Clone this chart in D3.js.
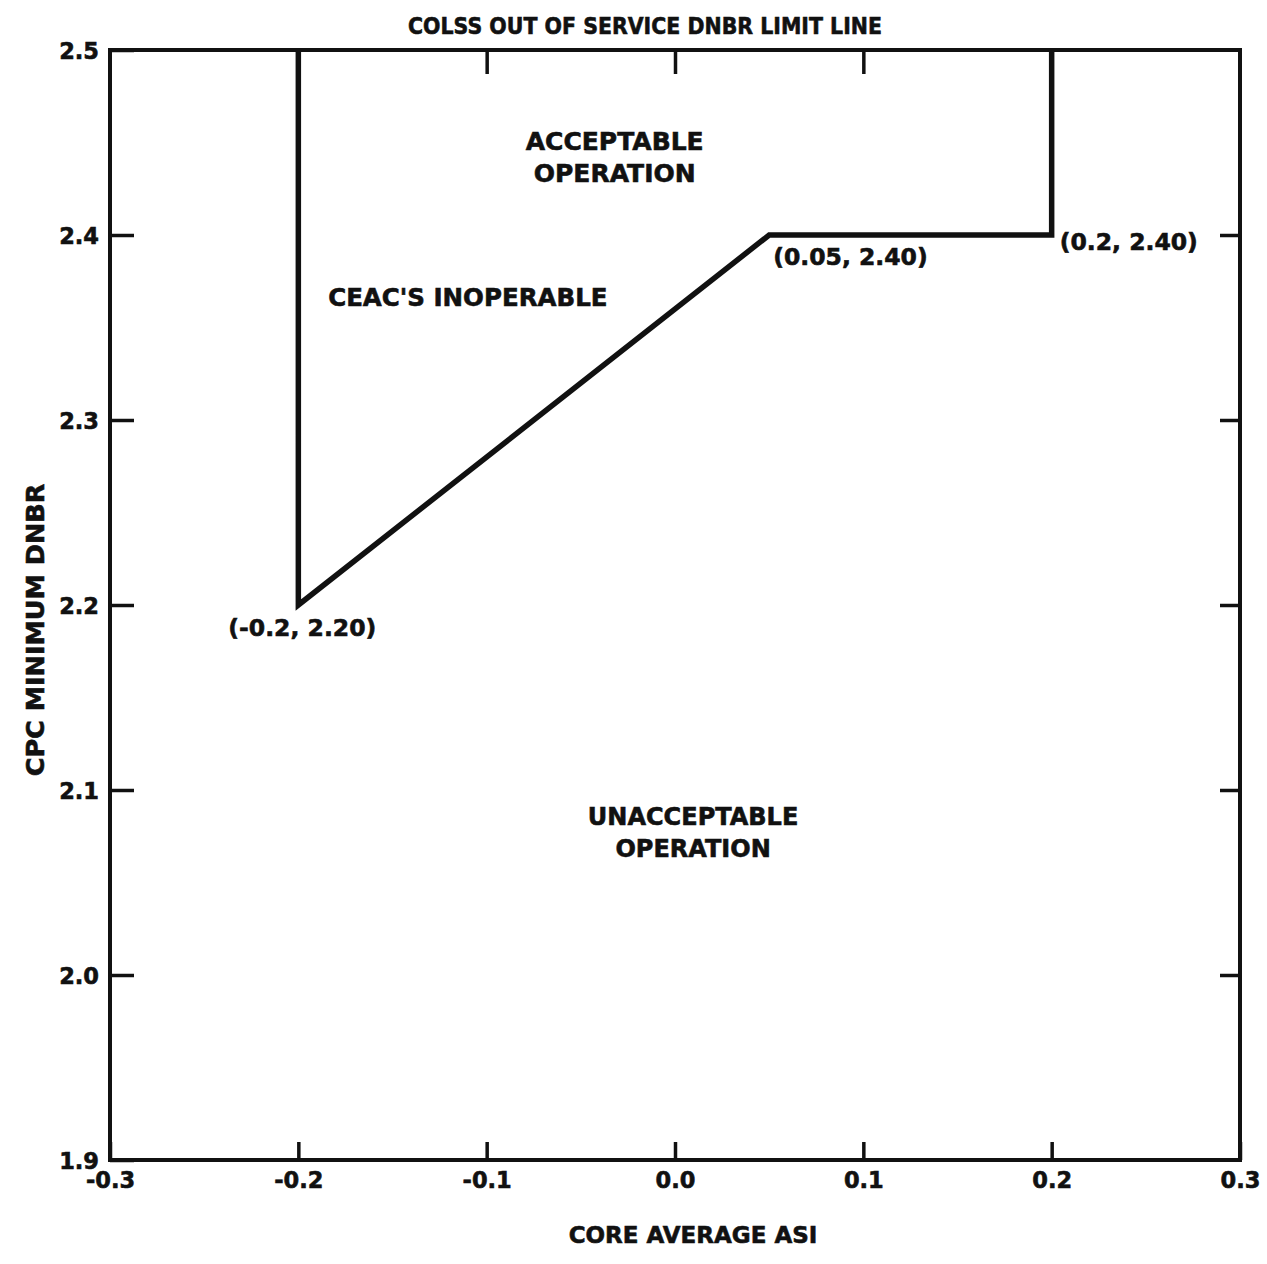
<!DOCTYPE html>
<html>
<head>
<meta charset="utf-8">
<script src="https://cdn.jsdelivr.net/npm/d3@7"></script>
<style>
  html, body { margin: 0; padding: 0; background: #fff; }
  svg { display: block; }
  text { font-family: "DejaVu Sans", "Liberation Sans", sans-serif; font-weight: bold; fill: #111; stroke: #111; stroke-width: 0.6px; }
</style>
</head>
<body>
<script>
// ---- data ----
const xTicks = [-0.3, -0.2, -0.1, 0.0, 0.1, 0.2, 0.3];
const xTickLabels = ["-0.3", "-0.2", "-0.1", "0.0", "0.1", "0.2", "0.3"];
const yTicks = [1.9, 2.0, 2.1, 2.2, 2.3, 2.4, 2.5];
const yTickLabels = ["1.9", "2.0", "2.1", "2.2", "2.3", "2.4", "2.5"];
const limitX = [-0.2, -0.2, 0.05, 0.2, 0.2];
const limitY = [2.5, 2.2, 2.4, 2.4, 2.5];
const pointLabels = [
  { x: -0.2, y: 2.2, text: "(-0.2, 2.20)" },
  { x: 0.05, y: 2.4, text: "(0.05, 2.40)" },
  { x: 0.2, y: 2.4, text: "(0.2, 2.40)" }
];
const regionLabels = [
  { x: -0.032, y: 2.4459, lines: ["ACCEPTABLE", "OPERATION"] },
  { x: -0.110, y: 2.3616, lines: ["CEAC'S INOPERABLE"] },
  { x: 0.0096, y: 2.0811, lines: ["UNACCEPTABLE", "OPERATION"] }
];
const title = "COLSS OUT OF SERVICE DNBR LIMIT LINE";
const xTitle = "CORE AVERAGE ASI";
const yTitle = "CPC MINIMUM DNBR";

// ---- layout ----
const W = 1267, H = 1264;
const m = { left: 110, top: 50 };
const w = 1130, h = 1110;

const svg = d3.select("body").append("svg").attr("width", W).attr("height", H);
const g = svg.append("g").attr("transform", `translate(${m.left},${m.top})`);

const x = d3.scaleLinear().domain([-0.3, 0.3]).range([0, w]);
const y = d3.scaleLinear().domain([1.9, 2.5]).range([h, 0]);

const fsTick = 22.5;

// bottom axis (ticks inward, labels below)
const xb = g.append("g").attr("transform", `translate(0,${h})`)
  .call(d3.axisBottom(x).tickValues(xTicks).tickSize(-18).tickPadding(7)
    .tickFormat((d, i) => xTickLabels[i]));
// top axis
const xt = g.append("g")
  .call(d3.axisTop(x).tickValues(xTicks.slice(1, -1)).tickSize(-24).tickFormat(""));
// left axis
const yl = g.append("g")
  .call(d3.axisLeft(y).tickValues(yTicks).tickSize(-24).tickPadding(11)
    .tickFormat((d, i) => yTickLabels[i]));
// right axis
const yr = g.append("g").attr("transform", `translate(${w},0)`)
  .call(d3.axisRight(y).tickValues(yTicks.slice(1, -1)).tickSize(-20).tickFormat(""));

[xb, xt, yl, yr].forEach(a => {
  a.select(".domain").remove();
  a.selectAll("line").attr("stroke", "#111").attr("stroke-width", 3.5);
  a.selectAll("text").style("font-size", fsTick + "px").style("font-family", null)
    .attr("fill", "#111");
});
xb.selectAll("text").attr("dy", "0.95em");
yl.selectAll("text").attr("dy", "0.36em");

// frame
g.append("rect").attr("x", 0).attr("y", 0).attr("width", w).attr("height", h)
  .attr("fill", "none").attr("stroke", "#111").attr("stroke-width", 4);

// limit line
const pts = limitX.map((v, i) => [v, limitY[i]]);
g.append("path").datum(pts)
  .attr("d", d3.line().x(d => x(d[0])).y(d => y(d[1])))
  .attr("fill", "none").attr("stroke", "#111").attr("stroke-width", 5.5)
  .attr("stroke-linejoin", "miter");

// point labels
const plOff = [[-70, 31], [4, 30], [8, 15]];
g.selectAll(".pl").data(pointLabels).join("text")
  .attr("class", "pl")
  .attr("x", (d, i) => x(d.x) + plOff[i][0])
  .attr("y", (d, i) => y(d.y) + plOff[i][1])
  .style("font-size", "23.5px")
  .text(d => d.text);

// region labels
const rlSize = [25, 24.5, 24];
regionLabels.forEach((r, k) => {
  const t = g.append("text").attr("text-anchor", "middle")
    .attr("x", x(r.x)).attr("y", y(r.y)).style("font-size", rlSize[k] + "px");
  r.lines.forEach((l, i) => t.append("tspan").attr("x", x(r.x)).attr("dy", i ? 32 : 0).text(l));
});

// titles
svg.append("text").attr("x", 645).attr("y", 34).attr("text-anchor", "middle")
  .attr("textLength", 474).attr("lengthAdjust", "spacingAndGlyphs")
  .style("font-size", "23px").text(title);
svg.append("text").attr("x", 693).attr("y", 1243).attr("text-anchor", "middle")
  .style("font-size", "23px").text(xTitle);
svg.append("text").attr("transform", "translate(44,630) rotate(-90)")
  .attr("text-anchor", "middle").style("font-size", "25.5px").text(yTitle);
</script>
</body>
</html>
